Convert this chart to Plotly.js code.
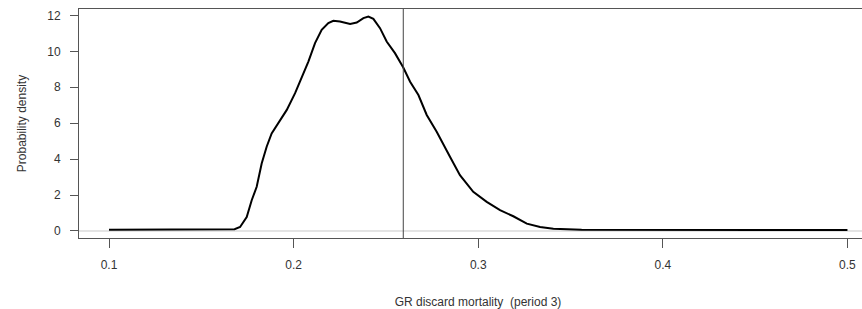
<!DOCTYPE html>
<html>
<head>
<meta charset="utf-8">
<script src="https://cdn.plot.ly/plotly-3.0.1.min.js"></script>
<style>
html,body{margin:0;padding:0;overflow:hidden;background:#fff;}
#chart{width:900px;height:309px;}
</style>
</head>
<body>
<div id="chart"></div>
<script>
// Posterior density of GR discard mortality (period 3)
const mortality = [0.100, 0.164, 0.168, 0.171, 0.1746, 0.1773, 0.180, 0.1827, 0.1854, 0.1881, 0.1917, 0.1963, 0.2008, 0.2044, 0.208, 0.2116, 0.2152, 0.2188, 0.2215, 0.2251, 0.2306, 0.2342, 0.2378, 0.2405, 0.2432, 0.2468, 0.2504, 0.2549, 0.2594, 0.2631, 0.2676, 0.2721, 0.2775, 0.2847, 0.2901, 0.2973, 0.3046, 0.3118, 0.319, 0.3263, 0.3335, 0.3407, 0.3534, 0.356, 0.500];
const density = [0.07, 0.07, 0.10, 0.22, 0.78, 1.71, 2.46, 3.76, 4.69, 5.43, 5.99, 6.74, 7.67, 8.50, 9.43, 10.46, 11.2, 11.57, 11.70, 11.66, 11.53, 11.6, 11.85, 11.94, 11.81, 11.29, 10.55, 9.9, 9.1, 8.31, 7.57, 6.46, 5.52, 4.13, 3.11, 2.18, 1.62, 1.16, 0.82, 0.41, 0.22, 0.13, 0.09, 0.07, 0.05];
const referenceValue = 0.2594;
const xTickVals = [0.1, 0.2, 0.3, 0.4, 0.5];
const xTickText = ["0.1", "0.2", "0.3", "0.4", "0.5"];
const yTickVals = [0, 2, 4, 6, 8, 10, 12];
const yTickText = ["0", "2", "4", "6", "8", "10", "12"];

const font = {family: "Liberation Sans, Arial, sans-serif", size: 12, color: "#333"};

const traces = [{
  x: mortality, y: density, type: "scatter", mode: "lines",
  line: {color: "#000", width: 2}, hoverinfo: "skip"
}];

const layout = {
  width: 900, height: 309,
  margin: {l: 79, r: 23, t: 9, b: 71, pad: 0},
  paper_bgcolor: "#fff", plot_bgcolor: "#fff",
  showlegend: false,
  font: font,
  xaxis: {
    range: [0.08375, 0.516], tickvals: xTickVals, ticktext: xTickText,
    showgrid: false, zeroline: false, showline: true, mirror: true,
    linecolor: "#555", linewidth: 1, ticks: "outside", ticklen: 9, tickcolor: "#555", tickwidth: 1,
    tickfont: font, ticklabelstandoff: 7,
    title: {text: "GR discard mortality\u00a0\u00a0(period 3)", font: font, standoff: 26}
  },
  yaxis: {
    range: [-0.39, 12.357], tickvals: yTickVals, ticktext: yTickText,
    showgrid: false, zeroline: false, showline: true, mirror: true,
    linecolor: "#555", linewidth: 1, ticks: "outside", ticklen: 8, tickcolor: "#555", tickwidth: 1,
    tickfont: font, ticklabelstandoff: 7,
    title: {text: "Probability density", font: font, standoff: 18}
  },
  shapes: [
    {type: "line", xref: "paper", x0: 0, x1: 1, yref: "y", y0: 0, y1: 0, line: {color: "#c8c8c8", width: 1}, layer: "below"},
    {type: "line", xref: "x", x0: referenceValue, x1: referenceValue, yref: "paper", y0: 0, y1: 1, line: {color: "#444", width: 1}}
  ]
};

Plotly.newPlot("chart", traces, layout, {staticPlot: true, displayModeBar: false});
</script>
</body>
</html>
